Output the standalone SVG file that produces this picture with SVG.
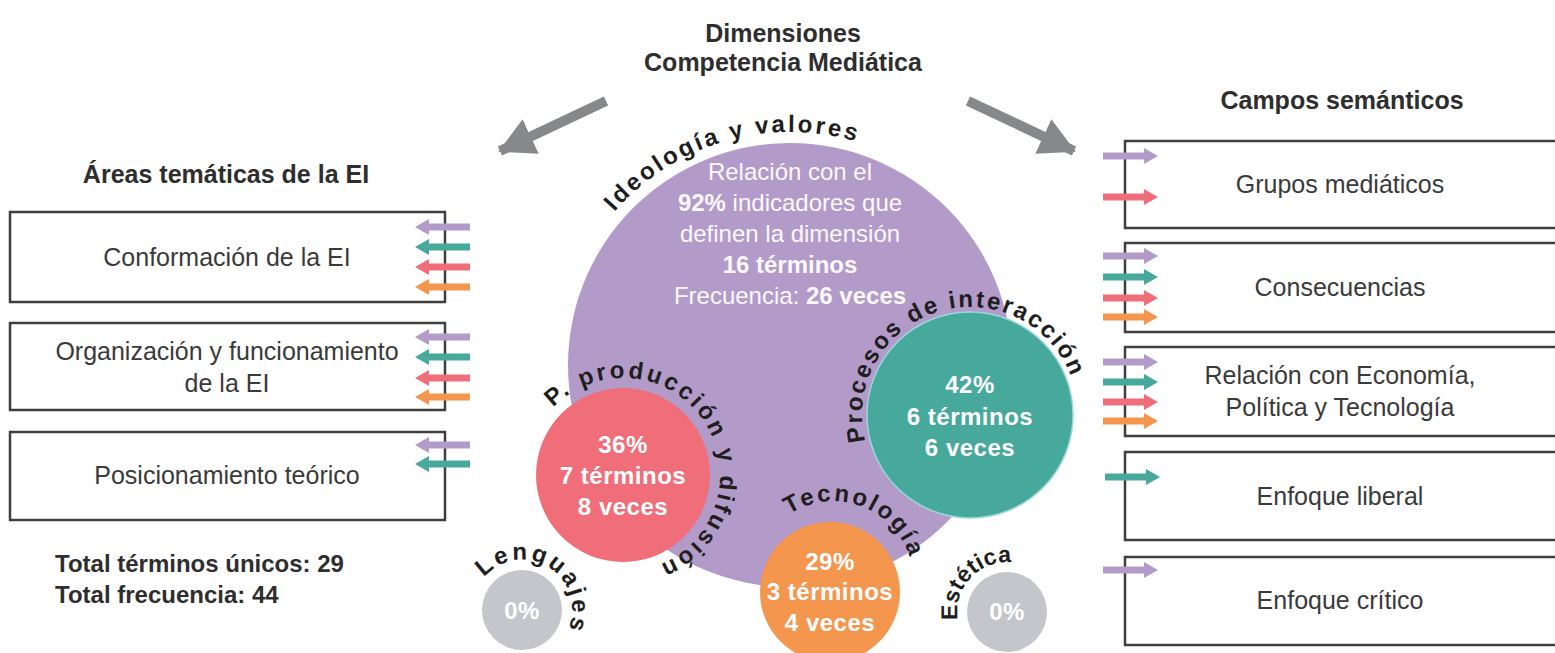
<svg xmlns="http://www.w3.org/2000/svg" xmlns:xlink="http://www.w3.org/1999/xlink" width="1555" height="653" viewBox="0 0 1555 653">
<style>
.t{font-family:"Liberation Sans",Arial,sans-serif;fill:#2e2e2e}
.h{font-size:25px;font-weight:bold;text-anchor:middle}
.bt{font-size:25px;text-anchor:middle;fill:#3a3a3a}
.box{fill:#fff;stroke:#3f3f3f;stroke-width:2.5}
.w{font-family:"Liberation Sans",Arial,sans-serif;fill:#fbf8fc;text-anchor:middle;font-size:24px}
.wb{font-family:"Liberation Sans",Arial,sans-serif;fill:#fff;text-anchor:middle;font-size:24px;font-weight:bold;letter-spacing:0.5px}
.arc{font-family:"Liberation Sans",Arial,sans-serif;font-weight:bold;font-size:24px;fill:#1e1e1e;letter-spacing:2.7px}
.pu{fill:#b39bc9}.te{fill:#47a99b}.re{fill:#f06e79}.or{fill:#f5964f}
</style>
<defs>
<path id="la" d="M0,0 L14,-8 L14,-3.5 L55,-3.5 L55,3.5 L14,3.5 L14,8 Z"/>
<path id="ra" d="M0,-3.5 L41,-3.5 L41,-8 L55,0 L41,8 L41,3.5 L0,3.5 Z"/>
<marker id="gh" markerWidth="4.5" markerHeight="4.5" refX="3.4" refY="2.2" orient="auto" markerUnits="strokeWidth"><path d="M0,0.3 L3.6,2.2 L0,4.1 Z" fill="#87888a"/></marker>
<path id="pIde" d="M571.1,285.3 A233,233 0 0,1 933.5,181.4"/>
<path id="pPro" d="M873.8,464 A108,108 0 1,1 1077.2,401.8"/>
<path id="pPd" d="M540.3,424.3 A97,97 0 1,1 637.3,570.9"/>
<path id="pTec" d="M755.3,563.3 A80,80 0 1,1 904.2,618.2"/>
<path id="pLen" d="M477.8,586.7 A50,50 0 1,1 561.5,640.6"/>
<path id="pEst" d="M967.1,642.1 A50,50 0 0,1 1034.2,570.1"/>
</defs>

<g id="title">
<text class="t h" x="783" y="42">Dimensiones</text>
<text class="t h" x="783" y="71">Competencia Mediática</text>
</g>

<g id="left-header"><text class="t h" x="226" y="183">Áreas temáticas de la EI</text></g>
<g id="right-header"><text class="t h" x="1342" y="109">Campos semánticos</text></g>

<g id="area-conformacion">
<rect class="box" x="10" y="212" width="435" height="90"/>
<text class="t bt" x="227" y="266">Conformación de la EI</text>
</g>
<g id="area-organizacion">
<rect class="box" x="10" y="323" width="435" height="87"/>
<text class="t bt" x="227" y="360">Organización y funcionamiento</text>
<text class="t bt" x="227" y="392">de la EI</text>
</g>
<g id="area-posicionamiento">
<rect class="box" x="10" y="432" width="435" height="88"/>
<text class="t bt" x="227" y="484">Posicionamiento teórico</text>
</g>

<g id="totals">
<text class="t" x="55" y="572" font-size="24" font-weight="bold">Total términos únicos: 29</text>
<text class="t" x="55" y="603" font-size="24" font-weight="bold">Total frecuencia: 44</text>
</g>

<g id="campo-grupos">
<rect class="box" x="1125" y="141" width="440" height="87"/>
<text class="t bt" x="1340" y="193">Grupos mediáticos</text>
</g>
<g id="campo-consecuencias">
<rect class="box" x="1125" y="243" width="440" height="89"/>
<text class="t bt" x="1340" y="296">Consecuencias</text>
</g>
<g id="campo-relacion">
<rect class="box" x="1125" y="347" width="440" height="89"/>
<text class="t bt" x="1340" y="384">Relación con Economía,</text>
<text class="t bt" x="1340" y="416">Política y Tecnología</text>
</g>
<g id="campo-liberal">
<rect class="box" x="1125" y="452" width="440" height="88"/>
<text class="t bt" x="1340" y="505">Enfoque liberal</text>
</g>
<g id="campo-critico">
<rect class="box" x="1125" y="557" width="440" height="88"/>
<text class="t bt" x="1340" y="609">Enfoque crítico</text>
</g>

<g id="ideologia">
<circle class="pu" cx="790" cy="365" r="222"/>
<text class="w" x="790" y="180">Relación con el</text>
<text class="w" x="790" y="211"><tspan font-weight="bold">92%</tspan> indicadores que</text>
<text class="w" x="790" y="242">definen la dimensión</text>
<text class="w" x="790" y="273" font-weight="bold">16 términos</text>
<text class="w" x="790" y="304">Frecuencia: <tspan font-weight="bold">26 veces</tspan></text>
<text class="arc"><textPath xlink:href="#pIde" href="#pIde" startOffset="50%" text-anchor="middle">Ideología y valores</textPath></text>
</g>

<g id="produccion">
<circle class="re" cx="623" cy="475" r="87"/>
<text class="wb" x="623" y="453">36%</text>
<text class="wb" x="623" y="484">7 términos</text>
<text class="wb" x="623" y="515">8 veces</text>
<text class="arc" style="letter-spacing:2.9px"><textPath xlink:href="#pPd" href="#pPd" startOffset="50%" text-anchor="middle">P. producción y difusión</textPath></text>
</g>

<g id="interaccion">
<circle class="te" cx="970" cy="415" r="103" stroke="#9ad6dc" stroke-width="1.5"/>
<text class="wb" x="970" y="393">42%</text>
<text class="wb" x="970" y="425">6 términos</text>
<text class="wb" x="970" y="456">6 veces</text>
<text class="arc" style="letter-spacing:2.2px"><textPath xlink:href="#pPro" href="#pPro" startOffset="50%" text-anchor="middle">Procesos de interacción</textPath></text>
</g>

<g id="tecnologia">
<circle class="or" cx="830" cy="592" r="70"/>
<text class="wb" x="830" y="570">29%</text>
<text class="wb" x="830" y="600">3 términos</text>
<text class="wb" x="830" y="631">4 veces</text>
<text class="arc" style="letter-spacing:2.5px"><textPath xlink:href="#pTec" href="#pTec" startOffset="50%" text-anchor="middle">Tecnología</textPath></text>
</g>

<g id="lenguajes">
<circle cx="522" cy="610" r="40" fill="#c5c6cb"/>
<text class="wb" x="522" y="619" font-size="22">0%</text>
<text class="arc" style="letter-spacing:2.8px"><textPath xlink:href="#pLen" href="#pLen" startOffset="50%" text-anchor="middle">Lenguajes</textPath></text>
</g>

<g id="estetica">
<circle cx="1007" cy="612" r="40" fill="#c5c6cb"/>
<text class="wb" x="1007" y="620" font-size="22">0%</text>
<text class="arc" style="letter-spacing:0.3px;font-size:23px"><textPath xlink:href="#pEst" href="#pEst" startOffset="50%" text-anchor="middle">Estética</textPath></text>
</g>

<g id="connectors">
<line x1="606" y1="101" x2="500" y2="151" stroke="#87888a" stroke-width="10" marker-end="url(#gh)"/>
<line x1="968" y1="101" x2="1074" y2="151" stroke="#87888a" stroke-width="10" marker-end="url(#gh)"/>
<use href="#la" xlink:href="#la" class="pu" transform="translate(415,227)"/>
<use href="#la" xlink:href="#la" class="te" transform="translate(415,247)"/>
<use href="#la" xlink:href="#la" class="re" transform="translate(415,267)"/>
<use href="#la" xlink:href="#la" class="or" transform="translate(415,287)"/>
<use href="#la" xlink:href="#la" class="pu" transform="translate(415,337)"/>
<use href="#la" xlink:href="#la" class="te" transform="translate(415,357)"/>
<use href="#la" xlink:href="#la" class="re" transform="translate(415,378)"/>
<use href="#la" xlink:href="#la" class="or" transform="translate(415,397)"/>
<use href="#la" xlink:href="#la" class="pu" transform="translate(415,445)"/>
<use href="#la" xlink:href="#la" class="te" transform="translate(415,464)"/>
<use href="#ra" xlink:href="#ra" class="pu" transform="translate(1103,156)"/>
<use href="#ra" xlink:href="#ra" class="re" transform="translate(1103,197)"/>
<use href="#ra" xlink:href="#ra" class="pu" transform="translate(1103,256)"/>
<use href="#ra" xlink:href="#ra" class="te" transform="translate(1103,277)"/>
<use href="#ra" xlink:href="#ra" class="re" transform="translate(1103,298)"/>
<use href="#ra" xlink:href="#ra" class="or" transform="translate(1103,317)"/>
<use href="#ra" xlink:href="#ra" class="pu" transform="translate(1103,362)"/>
<use href="#ra" xlink:href="#ra" class="te" transform="translate(1103,382)"/>
<use href="#ra" xlink:href="#ra" class="re" transform="translate(1103,402)"/>
<use href="#ra" xlink:href="#ra" class="or" transform="translate(1103,421)"/>
<use href="#ra" xlink:href="#ra" class="te" transform="translate(1105,477)"/>
<use href="#ra" xlink:href="#ra" class="pu" transform="translate(1103,570)"/>
</g>
</svg>
